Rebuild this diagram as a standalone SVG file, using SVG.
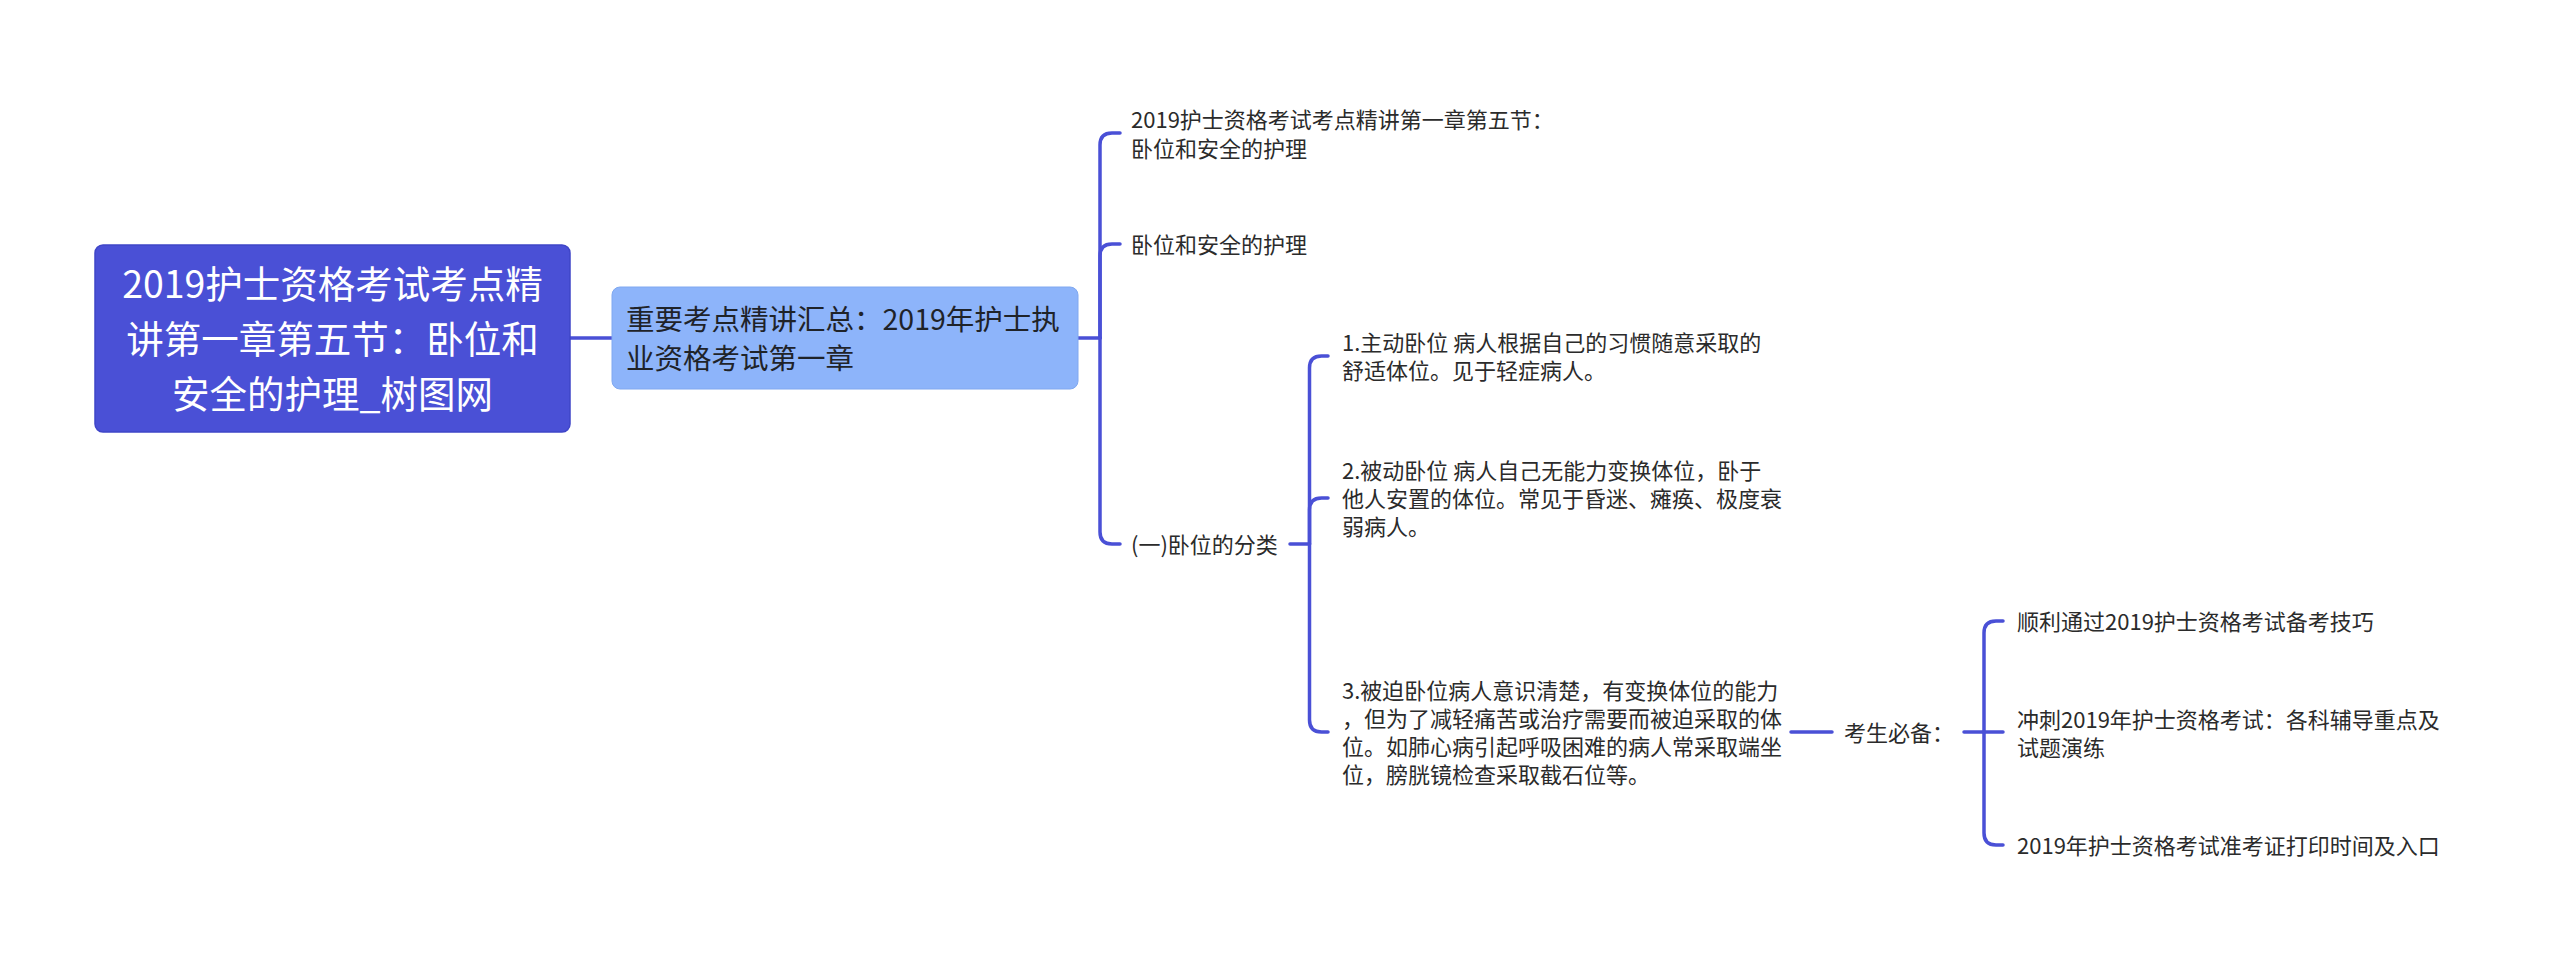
<svg xmlns="http://www.w3.org/2000/svg" width="2560" height="963" viewBox="0 0 2560 963">
<style>
text{font-family:"Noto Sans CJK SC","Noto Sans",sans-serif;}
.root{fill:#ffffff;font-size:37.5px;}
.sub{fill:#1f2329;font-size:28.5px;}
.t{fill:#2b2b2b;font-size:22px;}
.ln{fill:none;stroke:#4a50d6;stroke-width:3.5;stroke-linecap:round;stroke-linejoin:round;}
</style>
<rect width="2560" height="963" fill="#ffffff"/>
<g id="connectors">
  <path class="ln" d="M570,338 H612"/>
  <path class="ln" d="M1078,338 H1100"/>
  <path class="ln" d="M1100,338 V145 Q1100,133 1112,133 H1120"/>
  <path class="ln" d="M1100,338 V256 Q1100,244 1112,244 H1120"/>
  <path class="ln" d="M1100,338 V532 Q1100,544 1112,544 H1120"/>
  <path class="ln" d="M1290,544 H1309.5"/>
  <path class="ln" d="M1309.5,544 V368 Q1309.5,356 1321.5,356 H1328"/>
  <path class="ln" d="M1309.5,544 V510 Q1309.5,498 1321.5,498 H1328"/>
  <path class="ln" d="M1309.5,544 V720 Q1309.5,732 1321.5,732 H1328"/>
  <path class="ln" d="M1791,732 H1832"/>
  <path class="ln" d="M1964,732 H1984"/>
  <path class="ln" d="M1984,732 V633 Q1984,621 1996,621 H2003"/>
  <path class="ln" d="M1984,732 H2003"/>
  <path class="ln" d="M1984,732 V833 Q1984,845 1996,845 H2003"/>
</g>
<g id="node-root">
  <rect x="95" y="245" width="475" height="187" rx="8" ry="8" fill="#4a50d6" stroke="#3f45c8" stroke-width="1.5"/>
  <text class="root" text-anchor="middle" x="332.5" y="298">2019护士资格考试考点精</text>
  <text class="root" text-anchor="middle" x="332.5" y="353">讲第一章第五节：卧位和</text>
  <text class="root" text-anchor="middle" x="332.5" y="408">安全的护理_树图网</text>
</g>
<g id="node-summary">
  <rect x="612" y="287" width="466" height="102" rx="8" ry="8" fill="#8db4fa" stroke="#80a8f0" stroke-width="1"/>
  <text class="sub" x="626" y="330">重要考点精讲汇总：2019年护士执</text>
  <text class="sub" x="626" y="369">业资格考试第一章</text>
</g>
<g id="node-a1">
  <text class="t" x="1131" y="128">2019护士资格考试考点精讲第一章第五节：</text>
  <text class="t" x="1131" y="157">卧位和安全的护理</text>
</g>
<g id="node-a2">
  <text class="t" x="1131" y="253">卧位和安全的护理</text>
</g>
<g id="node-a3">
  <text class="t" x="1131" y="553">(一)卧位的分类</text>
</g>
<g id="node-b1">
  <text class="t" x="1342" y="350.5">1.主动卧位 病人根据自己的习惯随意采取的</text>
  <text class="t" x="1342" y="378.5">舒适体位。见于轻症病人。</text>
</g>
<g id="node-b2">
  <text class="t" x="1342" y="478.5">2.被动卧位 病人自己无能力变换体位，卧于</text>
  <text class="t" x="1342" y="506.5">他人安置的体位。常见于昏迷、瘫痪、极度衰</text>
  <text class="t" x="1342" y="534.5">弱病人。</text>
</g>
<g id="node-b3">
  <text class="t" x="1342" y="699">3.被迫卧位病人意识清楚，有变换体位的能力</text>
  <text class="t" x="1342" y="727">，但为了减轻痛苦或治疗需要而被迫采取的体</text>
  <text class="t" x="1342" y="755">位。如肺心病引起呼吸困难的病人常采取端坐</text>
  <text class="t" x="1342" y="783">位，膀胱镜检查采取截石位等。</text>
</g>
<g id="node-c">
  <text class="t" x="1844" y="740.5">考生必备：</text>
</g>
<g id="node-d1">
  <text class="t" x="2017" y="630">顺利通过2019护士资格考试备考技巧</text>
</g>
<g id="node-d2">
  <text class="t" x="2017" y="727.5">冲刺2019年护士资格考试：各科辅导重点及</text>
  <text class="t" x="2017" y="755.5">试题演练</text>
</g>
<g id="node-d3">
  <text class="t" x="2017" y="853.5">2019年护士资格考试准考证打印时间及入口</text>
</g>
</svg>
